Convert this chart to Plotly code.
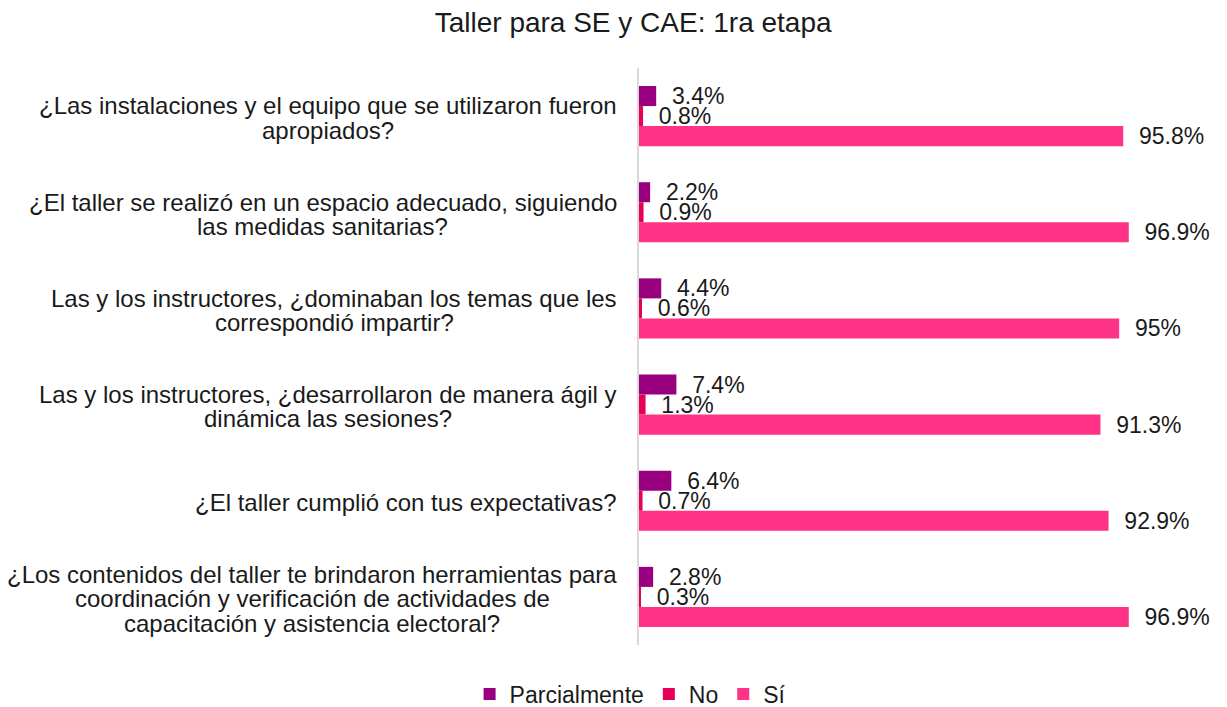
import plotly.graph_objects as go

title = "Taller para SE y CAE: 1ra etapa"
question_lines = [
    ["¿Las instalaciones y el equipo que se utilizaron fueron", "apropiados?"],
    ["¿El taller se realizó en un espacio adecuado, siguiendo", "las medidas sanitarias?"],
    ["Las y los instructores, ¿dominaban los temas que les", "correspondió impartir?"],
    ["Las y los instructores, ¿desarrollaron de manera ágil y", "dinámica las sesiones?"],
    ["¿El taller cumplió con tus expectativas?"],
    ["¿Los contenidos del taller te brindaron herramientas para",
     "coordinación y verificación de actividades de",
     "capacitación y asistencia electoral?"],
]
categories = [" ".join(l) for l in question_lines]
series_names = ["Parcialmente", "No", "Sí"]
parcialmente = [3.4, 2.2, 4.4, 7.4, 6.4, 2.8]
no = [0.8, 0.9, 0.6, 1.3, 0.7, 0.3]
si = [95.8, 96.9, 95, 91.3, 92.9, 96.9]
labels_parcialmente = ["3.4%", "2.2%", "4.4%", "7.4%", "6.4%", "2.8%"]
labels_no = ["0.8%", "0.9%", "0.6%", "1.3%", "0.7%", "0.3%"]
labels_si = ["95.8%", "96.9%", "95%", "91.3%", "92.9%", "96.9%"]

colors = ["#990080", "#E5005A", "#FF3385"]
FONT = "Liberation Sans, Arial"
TXT = "#1a1a1a"
LABEL_SIZE = 24
VALUE_SIZE = 23
LINE_H = 24.5
GAP = 22
pad = "\u00a0\u00a0"

# Arial advance widths (1/1000 em) to centre each wrapped line on its block
ARIAL_W = {' ': 278, '¿': 611, '?': 556, ',': 278, 'a': 556, 'b': 556, 'c': 500,
           'd': 556, 'e': 556, 'f': 278, 'g': 556, 'h': 556, 'i': 222, 'j': 222,
           'k': 500, 'l': 222, 'm': 833, 'n': 556, 'o': 556, 'p': 556, 'q': 556,
           'r': 333, 's': 500, 't': 278, 'u': 556, 'v': 500, 'w': 722, 'x': 500,
           'y': 500, 'z': 500, 'á': 556, 'é': 556, 'í': 278, 'ó': 556, 'ú': 556,
           'L': 556, 'E': 667, 'C': 722}


def text_w(s, size):
    return sum(ARIAL_W.get(ch, 556) for ch in s) * size / 1000.0


fig = go.Figure()
for name, vals, labs, col in zip(series_names, [parcialmente, no, si],
                                 [labels_parcialmente, labels_no, labels_si], colors):
    fig.add_trace(go.Bar(
        name=name, y=categories, x=vals, orientation="h",
        marker=dict(color=col, line=dict(width=0)),
        text=[pad + l for l in labs], textposition="outside",
        constraintext="none",
        textfont=dict(family=FONT, size=VALUE_SIZE, color=TXT),
        cliponaxis=False,
    ))

for cat, lines in zip(categories, question_lines):
    n = len(lines)
    maxw = max(text_w(s, LABEL_SIZE) for s in lines)
    for i, s in enumerate(lines):
        fig.add_annotation(
            x=0, xref="paper", y=cat, yref="y", text=s, showarrow=False,
            xanchor="center", yanchor="middle", align="center",
            xshift=-(GAP + maxw / 2), yshift=((n - 1) / 2 - i) * LINE_H - 2,
            font=dict(family=FONT, size=LABEL_SIZE, color=TXT),
        )

fig.update_layout(
    width=1227, height=707,
    paper_bgcolor="white", plot_bgcolor="white",
    title=dict(text=title, x=0.516, xanchor="center",
               y=0.969, yanchor="middle",
               font=dict(family=FONT, size=28, color=TXT)),
    barmode="group", bargap=0.375, bargroupgap=0,
    margin=dict(l=639, r=32, t=68, b=62, autoexpand=False),
    showlegend=True,
    legend=dict(orientation="h", x=-0.016, xanchor="center",
                y=-0.085, yanchor="middle",
                font=dict(family=FONT, size=VALUE_SIZE, color=TXT)),
)
fig.update_xaxes(range=[0, 110], showgrid=False, zeroline=False, showticklabels=False,
                 showline=False, ticks="")
fig.update_yaxes(autorange="reversed", showticklabels=False, showgrid=False,
                 showline=True, linecolor="#D9D9D9", linewidth=2, ticks="",
                 zeroline=False)

fig.write_html("out.html", config={"displayModeBar": False},
               post_script="document.body.style.margin='0px';")
